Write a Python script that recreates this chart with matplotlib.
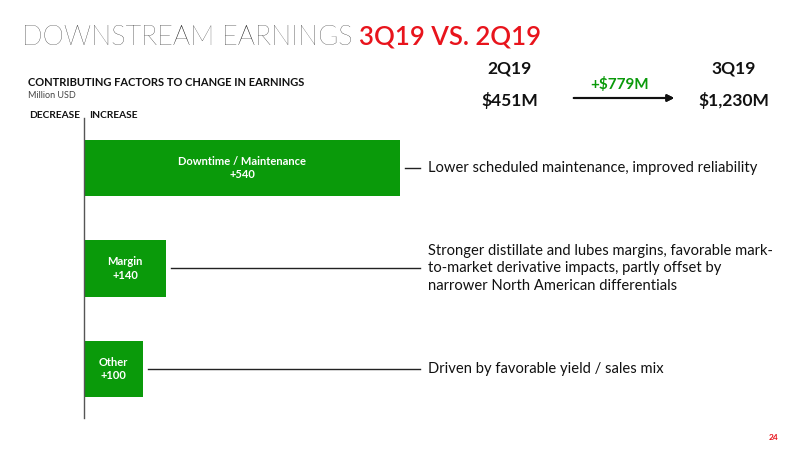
import matplotlib.pyplot as plt

plt.rcParams['font.family'] = ['Lato', 'DejaVu Sans']

factors = ['Downtime / Maintenance', 'Margin', 'Other']
changes = [540, 140, 100]
notes = ['Lower scheduled maintenance, improved reliability',
         'Stronger distillate and lubes margins, favorable mark-\nto-market derivative impacts, partly offset by\nnarrower North American differentials',
         'Driven by favorable yield / sales mix']
periods = ['2Q19', '3Q19']
earnings = ['$451M', '$1,230M']
total_change = '+$779M'

green = '#0a9a0a'
red = '#e8141c'

fig = plt.figure(figsize=(8, 4.5), dpi=100)
W, H = 800, 450

# bar axes in pixel layout: x 84..420, y 118..418
ax = fig.add_axes([84 / W, 1 - 418 / H, (420 - 84) / W, (418 - 118) / H])
ypos = list(range(len(factors)))
ax.barh(ypos, changes, height=0.56, color=green, left=0)
ax.set_xlim(0, 336 / 0.585)
ax.set_ylim(2.488, -0.4975)
for s in ['top', 'right', 'bottom']:
    ax.spines[s].set_visible(False)
ax.spines['left'].set_color('#555555')
ax.spines['left'].set_linewidth(1)
ax.set_xticks([])
ax.set_yticks([])
ax.patch.set_alpha(0)

xmax = ax.get_xlim()[1]
gap = 5 / 0.585
for y, name, val, note in zip(ypos, factors, changes, notes):
    ax.text(val / 2, y, f'{name}\n+{val}', ha='center', va='center',
            color='white', fontsize=8, fontweight='bold', linespacing=1.3)
    ax.plot([val + gap, xmax], [y, y], color='#222222', lw=1, clip_on=False)
    ax.text(xmax + 8 / 0.585, y, note, ha='left', va='center', fontsize=10.6,
            color='#111111', linespacing=1.33, clip_on=False)

# title
t1 = fig.text(22 / W, 1 - 45 / H, 'DOWNSTREAM EARNINGS ', fontsize=19.5,
              fontweight='light', color='#111111', va='baseline')
fig.canvas.draw()
bb = t1.get_window_extent()
fig.text(bb.x1 / W - 0.002, 1 - 45 / H, '3Q19 VS. 2Q19', fontsize=18.5,
         fontweight='semibold', color=red, va='baseline')

fig.text(28 / W, 1 - 86 / H, 'CONTRIBUTING FACTORS TO CHANGE IN EARNINGS',
         fontsize=8, fontweight='bold', color='#111111', va='baseline')
fig.text(28 / W, 1 - 98 / H, 'Million USD', fontsize=6.5, color='#444444', va='baseline')
fig.text(80 / W, 1 - 118 / H, 'DECREASE', fontsize=7.3, fontweight='bold',
         ha='right', va='baseline', color='#111111')
fig.text(89 / W, 1 - 118 / H, 'INCREASE', fontsize=7.3, fontweight='bold',
         ha='left', va='baseline', color='#111111')

# period comparison
for xc, p, e in zip([510, 734], periods, earnings):
    fig.text(xc / W, 1 - 74 / H, p, fontsize=12.5, fontweight='bold', ha='center',
             va='baseline', color='#111111')
    fig.text(xc / W, 1 - 106 / H, e, fontsize=12.5, fontweight='bold', ha='center',
             va='baseline', color='#111111')
fig.text(620 / W, 1 - 89 / H, total_change, fontsize=11, fontweight='bold', ha='center',
         va='baseline', color=green)
fig.add_artist(plt.annotate('', xy=(677 / W, 1 - 98 / H), xytext=(571 / W, 1 - 98 / H),
                            xycoords='figure fraction', textcoords='figure fraction',
                            arrowprops=dict(arrowstyle='-|>', color='#111111', lw=1.5,
                                            mutation_scale=10)))

fig.text(778 / W, 1 - 440 / H, '24', fontsize=6, fontweight='bold', color=red,
         ha='right', va='baseline')

fig.savefig('out.png', dpi=100)
